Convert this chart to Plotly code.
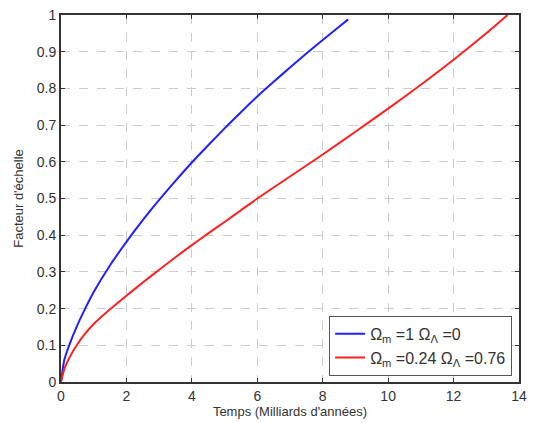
import plotly.graph_objects as go

# Blue: Omega_m = 1, Omega_L = 0
t_blue = [0, 0.1, 0.25, 0.5, 0.75, 1, 1.5, 2, 2.5, 3, 3.5, 4, 4.5, 5, 5.5, 6, 6.5, 7, 7.5, 8, 8.5, 8.78]
a_blue = [0, 0.06, 0.1, 0.155, 0.202, 0.245, 0.318, 0.382, 0.441, 0.496, 0.548, 0.598, 0.645, 0.691, 0.735,
          0.778, 0.818, 0.857, 0.895, 0.932, 0.968, 0.988]

# Red: Omega_m = 0.24, Omega_L = 0.76
t_red = [0, 0.1, 0.25, 0.5, 0.75, 1, 1.5, 2, 2.5, 3, 3.5, 4, 4.5, 5, 5.5, 6, 7, 8, 9, 10, 11, 12, 13, 13.65]
a_red = [0, 0.035, 0.065, 0.103, 0.133, 0.158, 0.198, 0.235, 0.271, 0.306, 0.34, 0.373, 0.405, 0.436,
         0.468, 0.5, 0.56, 0.62, 0.682, 0.745, 0.81, 0.878, 0.95, 1.0]

x_ticks = [0, 2, 4, 6, 8, 10, 12, 14]
y_ticks = [0, 0.1, 0.2, 0.3, 0.4, 0.5, 0.6, 0.7, 0.8, 0.9, 1]
y_labels = ["0", "0.1", "0.2", "0.3", "0.4", "0.5", "0.6", "0.7", "0.8", "0.9", "1"]

FONT = "Liberation Sans, Arial"

fig = go.Figure()
fig.add_trace(go.Scatter(x=t_blue, y=a_blue, mode="lines",
                         line=dict(color="#2020ff", width=2, shape="spline", smoothing=0.6),
                         name="Ω<sub>m</sub> =1 Ω<sub>Λ</sub> =0"))
fig.add_trace(go.Scatter(x=t_red, y=a_red, mode="lines",
                         line=dict(color="#ff2020", width=2, shape="spline", smoothing=0.6),
                         name="Ω<sub>m</sub> =0.24 Ω<sub>Λ</sub> =0.76"))

axis_common = dict(
    showline=True, linecolor="#333", linewidth=2, mirror="ticks",
    ticks="inside", ticklen=4, tickcolor="#333",
    showgrid=True, gridcolor="#cccccc", griddash="dash", gridwidth=1,
    zeroline=False,
    tickfont=dict(family=FONT, size=14, color="#333"),
)

fig.update_xaxes(range=[0, 14], tickvals=x_ticks, ticktext=[str(v) for v in x_ticks],
                 title=dict(text="Temps (Milliards d'années)", font=dict(family=FONT, size=13, color="#333"), standoff=2),
                 **axis_common)
fig.update_yaxes(range=[0, 1], tickvals=y_ticks, ticktext=y_labels,
                 title=dict(text="Facteur d'échelle", font=dict(family=FONT, size=13, color="#333"), standoff=10),
                 **axis_common)

fig.update_layout(
    width=534, height=423,
    margin=dict(l=61, r=7, t=15, b=41),
    paper_bgcolor="white", plot_bgcolor="white",
    showlegend=True,
    legend=dict(x=0.985, y=0.017, xanchor="right", yanchor="bottom",
                bgcolor="white", bordercolor="#555", borderwidth=1,
                font=dict(family=FONT, size=16, color="#333"),
                tracegroupgap=0, itemwidth=30),
)

fig.write_html("out.html")
